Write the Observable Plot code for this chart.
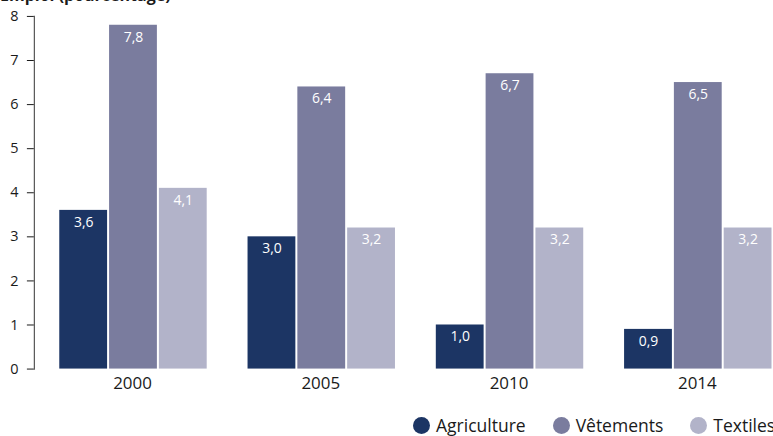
<!DOCTYPE html>
<html>
<head>
<meta charset="utf-8">
<script src="https://cdn.jsdelivr.net/npm/d3@7"></script>
<script src="https://cdn.jsdelivr.net/npm/@observablehq/plot@0.6"></script>
<style>
  html, body { margin: 0; padding: 0; background: #fff; overflow: hidden; width: 773px; height: 436px; }
  body { position: relative; font-family: "Open Sans", Lato, sans-serif; color: #1a1a1a; }
  #title { position: absolute; left: 0; top: -14px; font-size: 16px; font-weight: 700; line-height: 18px; white-space: nowrap; }
  #chart { position: absolute; left: 0; top: 0; }
  #legend { position: absolute; left: 413px; top: 414px; height: 22px; display: flex; align-items: center; white-space: nowrap; font-size: 17.5px; }
  .item { display: flex; align-items: center; margin-right: 27px; }
  .dot { width: 17px; height: 17px; border-radius: 50%; margin-right: 6px; }
</style>
</head>
<body>
<div id="title">Emploi (pourcentage)</div>
<div id="chart"></div>
<div id="legend"></div>
<script>
const years = ["2000", "2005", "2010", "2014"];
const series = ["Agriculture", "Vêtements", "Textiles"];
const agriculture = [3.6, 3.0, 1.0, 0.9];
const vetements = [7.8, 6.4, 6.7, 6.5];
const textiles = [4.1, 3.2, 3.2, 3.2];
const colors = ["#1c3564", "#7a7c9e", "#b2b3c9"];
const yTicks = [0, 1, 2, 3, 4, 5, 6, 7, 8];

const valuesBySeries = [agriculture, vetements, textiles];
const data = [];
years.forEach((yr, i) => {
  series.forEach((s, j) => {
    data.push({year: yr, series: s, value: valuesBySeries[j][i]});
  });
});
const fmt = v => v.toFixed(1).replace(".", ",");

const plot = Plot.plot({
  width: 776,
  height: 400,
  marginLeft: 33.5,
  marginRight: 2,
  marginTop: 16,
  marginBottom: 30,
  style: {fontFamily: "'Open Sans', Lato, sans-serif", color: "#1a1a1a", background: "transparent"},
  fx: {domain: years, paddingInner: 16 / 189, paddingOuter: 0, label: null, axis: null},
  x: {domain: series, paddingInner: 0.05, paddingOuter: 0.24, align: 1, axis: null},
  y: {domain: [0, 8], label: null},
  color: {domain: series, range: colors},
  marks: [
    Plot.barY(data, {fx: "year", x: "series", y: "value", fill: "series"}),
    Plot.text(data, {fx: "year", x: "series", y: "value", text: d => fmt(d.value), dy: 12, fill: "white", fontSize: 14}),
    Plot.axisY({ticks: yTicks, tickSize: 7, tickPadding: 9, fontSize: 14.5, label: null, tickFormat: d => String(d)}),
    Plot.frame({anchor: "left", facetAnchor: "left", stroke: "#555", strokeWidth: 1.2}),
    Plot.axisFx({anchor: "bottom", dx: 12, tickSize: 0, tickPadding: 8, fontSize: 17, label: null})
  ]
});
document.getElementById("chart").appendChild(plot);

const legend = document.getElementById("legend");
series.forEach((s, i) => {
  const item = document.createElement("div");
  item.className = "item";
  const dot = document.createElement("span");
  dot.className = "dot";
  dot.style.background = colors[i];
  const label = document.createElement("span");
  label.textContent = s;
  item.appendChild(dot);
  item.appendChild(label);
  legend.appendChild(item);
});
</script>
</body>
</html>
